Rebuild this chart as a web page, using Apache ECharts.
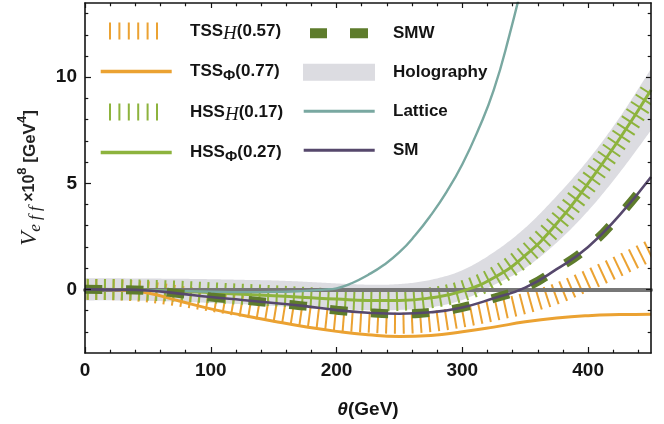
<!DOCTYPE html>
<html><head><meta charset="utf-8">
<script src="https://cdn.jsdelivr.net/npm/echarts@6/dist/echarts.min.js"></script>
<style>html,body{margin:0;padding:0;background:#fff}#c{width:664px;height:424px}</style>
</head><body><div id="c"></div>
<script>
// ---- data ----
const theta    = [0, 25, 50, 75, 100, 125, 150, 175, 200, 225, 250, 275, 300, 325, 350, 375, 400, 425, 450];
const tssPhi   = [0, -0.02, -0.17, -0.55, -0.92, -1.22, -1.50, -1.76, -1.98, -2.14, -2.22, -2.17, -2.00, -1.78, -1.53, -1.35, -1.24, -1.19, -1.17];
const tssH     = [0, -0.02, -0.12, -0.32, -0.55, -0.80, -1.05, -1.28, -1.45, -1.55, -1.60, -1.52, -1.30, -1.00, -0.66, -0.20, 0.43, 1.12, 1.85];
const hssPhi   = [0, -0.01, -0.04, -0.09, -0.16, -0.23, -0.30, -0.38, -0.46, -0.52, -0.52, -0.40, -0.08, 0.55, 1.60, 3.10, 5.00, 7.10, 9.40];
const hssH     = [0, -0.01, -0.04, -0.09, -0.16, -0.23, -0.30, -0.38, -0.46, -0.52, -0.52, -0.40, -0.08, 0.55, 1.60, 3.10, 5.00, 7.10, 9.40];
const sm       = [0, -0.01, -0.05, -0.20, -0.36, -0.50, -0.64, -0.79, -0.98, -1.10, -1.15, -1.08, -0.85, -0.42, 0.08, 0.95, 2.00, 3.50, 5.30];
const smw      = [0, -0.01, -0.05, -0.20, -0.36, -0.50, -0.64, -0.79, -0.98, -1.10, -1.15, -1.08, -0.85, -0.42, 0.08, 0.95, 2.00, 3.50, 5.30];
const latticeTheta = [0, 25, 50, 75, 100, 125, 150, 175, 190, 200, 212.5, 225, 237.5, 250, 262.5, 275, 287.5, 300, 312.5, 325, 337.5, 350, 362.5];
const lattice      = [0, -0.01, -0.04, -0.08, -0.11, -0.13, -0.12, -0.07, -0.01, 0.05, 0.30, 0.68, 1.15, 1.75, 2.55, 3.50, 4.60, 5.90, 7.50, 9.40, 12.0, 15.0, 18.4];
const holoHigh = [0.52, 0.52, 0.51, 0.50, 0.48, 0.45, 0.42, 0.36, 0.28, 0.22, 0.25, 0.45, 0.90, 1.75, 2.90, 4.40, 6.10, 8.10, 10.4];
const holoLow  = [-0.52, -0.52, -0.54, -0.58, -0.64, -0.70, -0.78, -0.86, -0.93, -0.98, -0.97, -0.85, -0.50, 0.20, 1.00, 2.20, 3.70, 5.50, 7.50];
const xTicks = [0, 100, 200, 300, 400];
const xMinor = [20, 40, 60, 80, 120, 140, 160, 180, 220, 240, 260, 280, 320, 340, 360, 380, 420, 440];
const yTicks = [0, 5, 10];
const yMinor = [-2, -1, 1, 2, 3, 4, 6, 7, 8, 9, 11, 12, 13];
const seriesNames = ['TSSH', 'TSSPhi', 'HSSH', 'HSSPhi', 'SMW', 'Holography', 'Lattice', 'SM'];
const legendText = {
  TSSH: '{b|TSS}{h|H}{b|(0.57)}',
  TSSPhi: '{b|TSS}{p|Φ}{b|(0.77)}',
  HSSH: '{b|HSS}{h|H}{b|(0.17)}',
  HSSPhi: '{b|HSS}{p|Φ}{b|(0.27)}',
  SMW: '{b|SMW}', Holography: '{b|Holography}', Lattice: '{b|Lattice}', SM: '{b|SM}'
};

// ---- styles ----
const C = {orange: '#eba232', green: '#8db33d', olive: '#5e7c2c', holo: '#dcdce1', teal: '#79a8a1', purple: '#56486c', zero: '#777777', ink: '#141414'};
const pairs = arr => theta.map((t, i) => [t, arr[i]]);

function densify(pts, n) {
  const out = [];
  for (let i = 0; i < pts.length - 1; i++) {
    const p0 = pts[i - 1] || pts[i], p1 = pts[i], p2 = pts[i + 1], p3 = pts[i + 2] || pts[i + 1];
    for (let k = 0; k < n; k++) {
      const t = k / n, t2 = t * t, t3 = t2 * t;
      const f = j => 0.5 * (2 * p1[j] + (-p0[j] + p2[j]) * t + (2 * p0[j] - 5 * p1[j] + 4 * p2[j] - p3[j]) * t2 + (-p0[j] + 3 * p1[j] - 3 * p2[j] + p3[j]) * t3);
      out.push([f(0), f(1)]);
    }
  }
  out.push(pts[pts.length - 1]);
  return out;
}
function ticksAlong(pts, spacing, len, phase, color, width) {
  const dense = densify(pts, 30);
  const children = [];
  let next = phase, acc = 0;
  for (let i = 0; i < dense.length - 1; i++) {
    const a = dense[i], b = dense[i + 1];
    const dx = b[0] - a[0], dy = b[1] - a[1], d = Math.hypot(dx, dy);
    if (d === 0) continue;
    while (acc + d >= next) {
      const f = (next - acc) / d;
      const px = a[0] + dx * f, py = a[1] + dy * f;
      const nx = -dy / d * len / 2, ny = dx / d * len / 2;
      children.push({type: 'line', shape: {x1: px - nx, y1: py - ny, x2: px + nx, y2: py + ny}, style: {stroke: color, lineWidth: width}});
      next += spacing;
    }
    acc += d;
  }
  return children;
}
function tickSeries(name, vals, color, z) {
  return {
    name, type: 'custom', coordinateSystem: 'cartesian2d', clip: true, z, silent: true,
    itemStyle: {color},
    data: pairs(vals),
    renderItem: (params, api) => {
      if (params.dataIndex !== 0) return null;
      const pts = theta.map((t, i) => api.coord([t, vals[i]]));
      return {type: 'group', children: ticksAlong(pts, 8.6, 21, 2.7, color, 2)};
    }
  };
}
function bandSeries(name, lo, hi, color, z) {
  return {
    name, type: 'custom', coordinateSystem: 'cartesian2d', clip: true, z, silent: true,
    itemStyle: {color},
    data: pairs(hi),
    renderItem: (params, api) => {
      if (params.dataIndex !== 0) return null;
      const up = densify(theta.map((t, i) => api.coord([t, hi[i]])), 20);
      const dn = densify(theta.map((t, i) => api.coord([t, lo[i]])), 20).reverse();
      return {type: 'polygon', shape: {points: up.concat(dn)}, style: {fill: color}};
    }
  };
}
function lineSeries(name, data, color, width, z, extra) {
  return Object.assign({
    name, type: 'line', data, smooth: true, symbol: 'none', showSymbol: false, silent: true,
    lineStyle: {color, width}, itemStyle: {color}, z
  }, extra || {});
}

// legend icons, drawn in an 85 x 18 box (tiny corner squares fix the box)
const box = 'M0 0h0.01v0.01h-0.01ZM84.99 17.99h0.01v0.01h-0.01Z';
const icons = {
  bars: box + [10, 19.4, 28.8, 38.2, 47.6, 57].map(x => `M${x - 1} 0.5H${x + 1}V17.5H${x - 1}Z`).join(''),
  line: box + 'M0.7 7.2H71.7V10.8H0.7Z',
  thin: box + 'M0.7 7.5H71.7V10.5H0.7Z',
  dash: box + 'M7 4H24V14H7ZM47 4H65V14H47Z',
  rect: box + 'M0 0.5H72V17.5H0Z'
};
const legendItem = (name, icon, color) => ({name, icon: 'path://' + icon, itemStyle: {color, borderWidth: 0, opacity: 1}});

const richLegend = {
  b: {fontFamily: 'Liberation Sans', fontWeight: 'bold', fontSize: 17, color: C.ink, lineHeight: 24},
  h: {fontFamily: 'Liberation Serif', fontStyle: 'italic', fontWeight: 'normal', fontSize: 19, color: C.ink, lineHeight: 24, verticalAlign: 'bottom'},
  p: {fontFamily: 'Liberation Sans', fontWeight: 'bold', fontSize: 15, color: C.ink, lineHeight: 24, verticalAlign: 'bottom'}
};
const legendBase = {
  orient: 'vertical', padding: 0, itemWidth: 85, itemHeight: 18, selectedMode: false,
  formatter: n => legendText[n], textStyle: {rich: richLegend, padding: 0}
};

const frameLine = {show: true, onZero: false, lineStyle: {color: C.ink, width: 1.6}};
const noLine = {show: false, onZero: false};
const labelFont = {fontFamily: 'Liberation Sans', fontWeight: 'bold', fontSize: 19, color: C.ink};

function xAx(pos, ticks, len, opts) {
  return Object.assign({
    type: 'value', min: 0, max: 450, position: pos, z: 10,
    axisLine: noLine, splitLine: {show: false},
    axisTick: {show: true, inside: true, length: len, customValues: ticks, lineStyle: {color: C.ink, width: 1.2}},
    axisLabel: {show: false}
  }, opts || {});
}
function yAx(pos, ticks, len, opts) {
  return Object.assign({
    type: 'value', min: -3, max: 13.5, position: pos, z: 10,
    axisLine: noLine, splitLine: {show: false},
    axisTick: {show: true, inside: true, length: len, customValues: ticks, lineStyle: {color: C.ink, width: 1.2}},
    axisLabel: {show: false}
  }, opts || {});
}

const option = {
  animation: false,
  backgroundColor: '#ffffff',
  grid: {left: 85, right: 13, top: 3, bottom: 71, containLabel: false, outerBoundsMode: 'none'},
  xAxis: [
    xAx('bottom', xTicks, 6, {
      axisLine: frameLine,
      axisLabel: Object.assign({show: true, customValues: xTicks, margin: 8}, labelFont),
      name: '{t|θ}{g|(GeV)}', nameLocation: 'middle', nameGap: 47,
      nameTextStyle: {rich: {
        t: {fontFamily: 'Liberation Sans', fontStyle: 'italic', fontWeight: 'bold', fontSize: 19, color: C.ink},
        g: {fontFamily: 'Liberation Sans', fontWeight: 'bold', fontSize: 19, color: C.ink}
      }}
    }),
    xAx('bottom', xMinor, 3.3),
    xAx('top', xTicks, 5, {axisLine: frameLine}),
    xAx('top', xMinor, 3.3),
    {type: 'value', min: 0, max: 450, position: 'bottom', z: 3.5,
     axisLine: {show: true, onZero: true, onZeroAxisIndex: 0, lineStyle: {color: C.zero, width: 4}},
     axisTick: {show: false}, axisLabel: {show: false}, splitLine: {show: false}}
  ],
  yAxis: [
    yAx('left', yTicks, 6, {
      axisLine: frameLine,
      axisLabel: Object.assign({show: true, customValues: yTicks, margin: 8}, labelFont),
      name: '{v|V}{e|e f f}{x| ×10}{s|8}{g| [GeV}{s|4}{g|]}',
      nameLocation: 'middle', nameGap: 41, nameRotate: 90,
      nameTextStyle: {rich: {
        v: {fontFamily: 'Liberation Serif', fontStyle: 'italic', fontSize: 23, color: '#222', lineHeight: 28},
        e: {fontFamily: 'Liberation Serif', fontStyle: 'italic', fontSize: 17, color: '#222', lineHeight: 28, verticalAlign: 'bottom'},
        x: {fontFamily: 'Liberation Sans', fontWeight: 'bold', fontSize: 16, color: '#222', lineHeight: 28},
        s: {fontFamily: 'Liberation Sans', fontWeight: 'bold', fontSize: 13, color: '#222', lineHeight: 28, verticalAlign: 'top'},
        g: {fontFamily: 'Liberation Sans', fontWeight: 'bold', fontSize: 17, color: '#222', lineHeight: 28}
      }}
    }),
    yAx('left', yMinor, 3.3),
    yAx('right', yTicks, 5, {axisLine: frameLine}),
    yAx('right', yMinor, 3.3)
  ],
  legend: [
    Object.assign({}, legendBase, {left: 100, top: 22, itemGap: 19.5, data: [
      legendItem(seriesNames[0], icons.bars, C.orange),
      legendItem(seriesNames[1], icons.line, C.orange),
      legendItem(seriesNames[2], icons.bars, C.green),
      legendItem(seriesNames[3], icons.line, C.green)
    ]}),
    Object.assign({}, legendBase, {left: 303, top: 24.3, itemGap: 21, data: [
      legendItem(seriesNames[4], icons.dash, C.olive),
      legendItem(seriesNames[5], icons.rect, C.holo),
      legendItem(seriesNames[6], icons.thin, C.teal),
      legendItem(seriesNames[7], icons.thin, C.purple)
    ]})
  ],
  series: [
    bandSeries(seriesNames[5], holoLow, holoHigh, C.holo, 1),
    tickSeries(seriesNames[0], tssH, C.orange, 2),
    tickSeries(seriesNames[2], hssH, C.green, 3),
    lineSeries(seriesNames[3], pairs(hssPhi), C.green, 3, 4),
    lineSeries(seriesNames[1], pairs(tssPhi), C.orange, 3, 4),
    lineSeries(seriesNames[6], latticeTheta.map((t, i) => [t, lattice[i]]), C.teal, 2.4, 5),
    lineSeries(seriesNames[4], pairs(smw), C.olive, 9, 6, {lineStyle: {color: C.olive, width: 9, type: [17.5, 23.5], cap: 'butt'}}),
    lineSeries(seriesNames[7], pairs(sm), C.purple, 2.6, 7)
  ]
};
echarts.init(document.getElementById('c'), null, {renderer: 'canvas'}).setOption(option);
</script></body></html>
